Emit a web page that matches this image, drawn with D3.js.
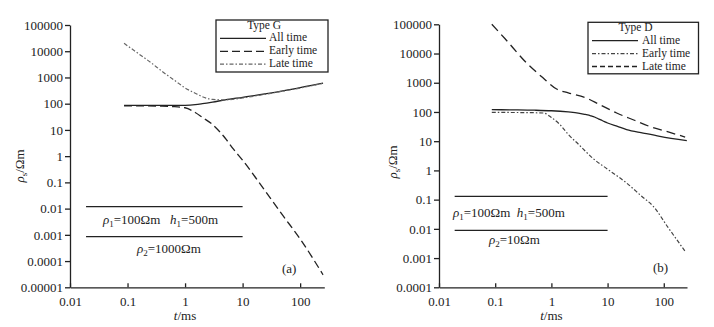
<!DOCTYPE html>
<html><head><meta charset="utf-8">
<script src="https://cdn.jsdelivr.net/npm/d3@7/dist/d3.min.js"></script>
<style>
html,body{margin:0;padding:0;background:#fff;}
svg text{font-family:"Liberation Serif","Times New Roman",serif;fill:#222;}
</style></head>
<body><svg id="c" width="714" height="327"></svg>
<script>
// ---------- data ----------
const xTickVals = [0.01, 0.1, 1, 10, 100];
const xTickLabels = ["0.01", "0.1", "1", "10", "100"];
const yTickValsG = [1e5, 1e4, 1e3, 100, 10, 1, 0.1, 0.01, 0.001, 0.0001, 0.00001];
const yTickLabelsG = ["100000", "10000", "1000", "100", "10", "1", "0.1", "0.01", "0.001", "0.0001", "0.00001"];
const yTickValsD = [1e5, 1e4, 1e3, 100, 10, 1, 0.1, 0.01, 0.001, 0.0001];
const yTickLabelsD = ["100000", "10000", "1000", "100", "10", "1", "0.1", "0.01", "0.001", "0.0001"];

// Type G
const tG_all = [0.087, 0.15, 0.3, 0.6, 1, 1.5, 2, 3, 5, 10, 20, 50, 100, 150, 250];
const G_all = [86, 86, 86, 86, 87, 92, 100, 115, 140, 175, 220, 310, 410, 490, 610];
const tG_early = [0.087, 0.2, 0.4, 0.6, 1, 1.5, 2, 3, 5, 7, 10, 20, 50, 100, 250];
const G_early = [82, 82, 81, 78, 70, 46, 30, 16, 4.8, 1.8, 0.7, 0.09, 0.0055, 0.0007, 0.00003];
const tG_late = [0.087, 0.15, 0.25, 0.4, 0.7, 1, 1.5, 2, 3, 5, 10, 20, 50, 100, 250];
const G_late = [20000, 8500, 3800, 1700, 700, 400, 250, 185, 145, 140, 165, 210, 300, 395, 600];

// Type D
const tD_all = [0.087, 0.2, 0.5, 1, 2, 3, 4, 5, 6, 7, 8, 10, 15, 21.8, 43, 85, 257];
const D_all = [120, 118, 115, 110, 100, 92, 82, 74, 66, 57, 51, 42, 32, 25, 19, 14.6, 10.4];
const tD_early = [0.087, 0.2, 0.4, 0.72, 1, 1.42, 2, 3, 5.6, 10, 21.8, 40, 65, 120, 240];
const D_early = [97, 96, 95, 92, 65, 37, 17, 8, 2.5, 1.1, 0.37, 0.133, 0.059, 0.011, 0.0017];
const tD_late = [0.087, 0.15, 0.36, 0.7, 1.24, 2, 4.2, 7, 14.5, 30, 56, 120, 240];
const D_late = [100000, 32000, 4800, 1500, 610, 450, 300, 185, 92, 52, 32, 20.7, 13.9];

// layer annotation lines
const layerT = [0.019, 10];
const layerG = [0.012, 0.00085];
const layerD = [0.13, 0.0089];

const legendLabels = ["All time", "Early time", "Late time"];

// ---------- drawing ----------
const svg = d3.select("#c");

function panel(cfg) {
  const g = svg.append("g");
  const x = d3.scaleLog().domain(cfg.xDomain).range(cfg.xRange);
  const y = d3.scaleLog().domain(cfg.yDomain).range(cfg.yRange);

  const yAxis = d3.axisLeft(y).tickValues(cfg.yTicks)
    .tickFormat((d, i) => cfg.yLabels[i]).tickSizeInner(5).tickSizeOuter(0).tickPadding(2);
  const ya = g.append("g").attr("transform", `translate(${cfg.xRange[0]},0)`).call(yAxis);
  const xAxis = d3.axisBottom(x).tickValues(xTickVals)
    .tickFormat((d, i) => xTickLabels[i]).tickSizeInner(-4).tickSizeOuter(0).tickPadding(9);
  const xa = g.append("g").attr("transform", `translate(0,${cfg.yRange[0]})`).call(xAxis);
  [ya, xa].forEach(a => {
    a.selectAll("text").style("font-family", "Liberation Serif").style("font-size", "13px").attr("fill", "#222");
    a.selectAll("line,path").attr("stroke", "#222").attr("stroke-width", 1.3);
  });

  // axis titles
  const yl = g.append("text").attr("transform", `translate(${cfg.yLabelX},${cfg.yLabelY}) rotate(-90)`)
    .attr("text-anchor", "middle").style("font-size", "13px");
  yl.append("tspan").attr("font-style", "italic").text("ρ");
  yl.append("tspan").attr("font-size", "9px").attr("dy", 3).text("s");
  yl.append("tspan").attr("dy", -3).text("/Ωm");
  const xl = g.append("text").attr("x", x(1)).attr("y", 320).attr("text-anchor", "middle").style("font-size", "13px");
  xl.append("tspan").attr("font-style", "italic").text("t");
  xl.append("tspan").text("/ms");

  const line = d3.line().x(d => x(d[0])).y(d => y(d[1])).curve(d3.curveMonotoneX);
  cfg.series.forEach(s => {
    g.append("path").datum(s.t.map((t, i) => [t, s.v[i]]))
      .attr("d", line).attr("fill", "none").attr("stroke", s.color)
      .attr("stroke-width", s.w).attr("stroke-dasharray", s.dash);
  });

  // layer lines
  cfg.layers.forEach(v => {
    g.append("line").attr("x1", x(layerT[0])).attr("x2", x(layerT[1]))
      .attr("y1", y(v)).attr("y2", y(v)).attr("stroke", "#222").attr("stroke-width", 1.3);
  });
  cfg.annots.forEach(a => {
    const t = g.append("text").attr("x", a.x).attr("y", a.y).style("font-size", "13px").attr("xml:space", "preserve");
    a.parts.forEach(p => {
      const ts = t.append("tspan").text(p.s);
      if (p.i) ts.attr("font-style", "italic");
      if (p.sub) ts.attr("font-size", "9px").attr("dy", 3);
      if (p.up) ts.attr("dy", -3);
    });
  });
  g.append("text").attr("x", cfg.tag[0]).attr("y", cfg.tag[1]).style("font-size", "13px").text(cfg.tag[2]);

  // legend
  const L = cfg.legend;
  g.append("rect").attr("x", L.x).attr("y", L.y).attr("width", L.w).attr("height", L.h)
    .attr("fill", "#fff").attr("stroke", "#222").attr("stroke-width", 1.3);
  g.append("text").attr("x", L.x + L.w * 0.43).attr("y", L.titleY).attr("text-anchor", "middle")
    .style("font-size", "11.5px").text(L.title);
  cfg.series.forEach((s, i) => {
    const ly = L.rowY[i];
    g.append("line").attr("x1", L.lx1).attr("x2", L.lx2).attr("y1", ly - 3).attr("y2", ly - 3)
      .attr("stroke", s.color).attr("stroke-width", s.w).attr("stroke-dasharray", s.legDash || s.dash);
    g.append("text").attr("x", L.tx).attr("y", ly).style("font-size", "11.5px").text(legendLabels[i]);
  });
}

panel({
  xDomain: [0.01, 263], xRange: [70, 324.3],
  yDomain: [1e-5, 1e5], yRange: [287.3, 25],
  yTicks: yTickValsG, yLabels: yTickLabelsG,
  yLabelX: 23.5, yLabelY: 166,
  series: [
    {t: tG_all, v: G_all, color: "#222", w: 1.3, dash: null},
    {t: tG_early, v: G_early, color: "#222", w: 1.3, dash: "8,4"},
    {t: tG_late, v: G_late, color: "#666", w: 1.2, dash: "4,2,1.5,2"}
  ],
  layers: layerG,
  annots: [
    {x: 103, y: 224, parts: [{s: "ρ", i: 1}, {s: "1", sub: 1}, {s: "=100Ωm   ", up: 1}, {s: "h", i: 1}, {s: "1", sub: 1}, {s: "=500m", up: 1}]},
    {x: 137, y: 253, parts: [{s: "ρ", i: 1}, {s: "2", sub: 1}, {s: "=1000Ωm", up: 1}]}
  ],
  tag: [282, 273, "(a)"],
  legend: {x: 216, y: 20, w: 112, h: 52, title: "Type G", titleY: 28.5,
    rowY: [41.4, 54.3, 67.2], lx1: 220, lx2: 266, tx: 269}
});

panel({
  xDomain: [0.01, 259], xRange: [439, 687],
  yDomain: [1e-4, 1e5], yRange: [287.3, 24.3],
  yTicks: yTickValsD, yLabels: yTickLabelsD,
  yLabelX: 396.5, yLabelY: 162,
  series: [
    {t: tD_all, v: D_all, color: "#222", w: 1.3, dash: null},
    {t: tD_early, v: D_early, color: "#444", w: 1.2, dash: "4,2,1.5,2"},
    {t: tD_late, v: D_late, color: "#222", w: 1.3, dash: "9,5", legDash: "5,3"}
  ],
  layers: layerD,
  annots: [
    {x: 453, y: 217, parts: [{s: "ρ", i: 1}, {s: "1", sub: 1}, {s: "=100Ωm  ", up: 1}, {s: "h", i: 1}, {s: "1", sub: 1}, {s: "=500m", up: 1}]},
    {x: 489, y: 244, parts: [{s: "ρ", i: 1}, {s: "2", sub: 1}, {s: "=10Ωm", up: 1}]}
  ],
  tag: [653, 272, "(b)"],
  legend: {x: 588, y: 22.3, w: 110.5, h: 51.5, title: "Type D", titleY: 30.8,
    rowY: [43.7, 56.6, 69.5], lx1: 592, lx2: 638, tx: 642}
});
</script></body></html>
